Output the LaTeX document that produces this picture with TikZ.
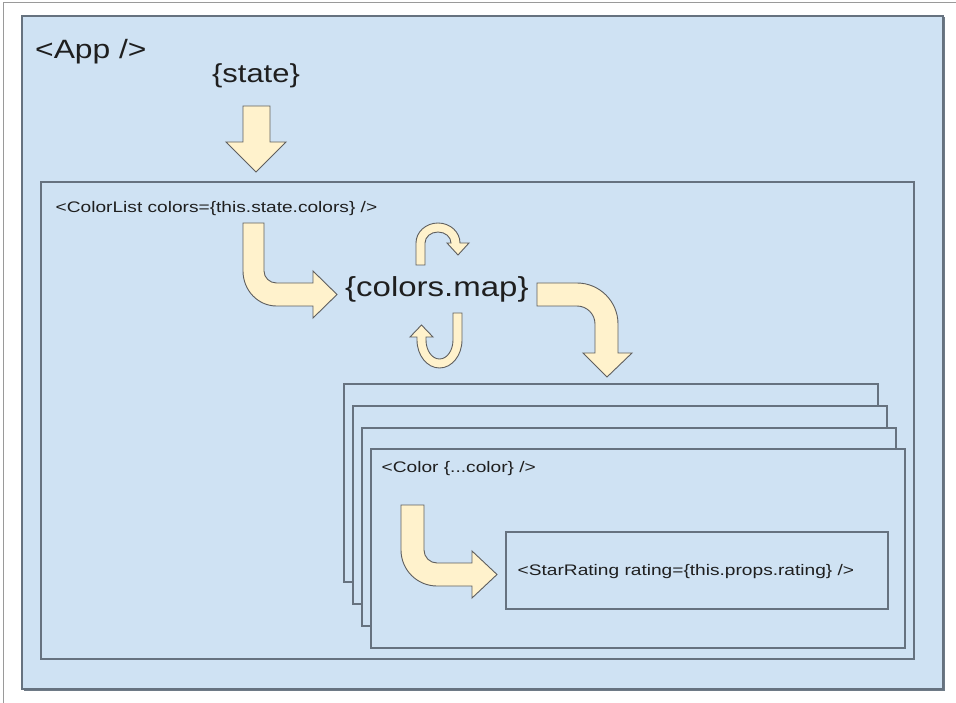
\documentclass[tikz,border=0pt]{standalone}
\usepackage{fontspec}
\setmainfont{Liberation Sans}
\definecolor{boxfill}{HTML}{CFE2F3}
\definecolor{boxline}{HTML}{66727F}
\definecolor{shadowc}{HTML}{6E7A86}
\definecolor{arrowfill}{HTML}{FFF2CC}
\definecolor{arrowline}{HTML}{5F5F5F}
\definecolor{txt}{HTML}{1F1F1F}
\definecolor{framec}{HTML}{9A9A9A}
\begin{document}
\begin{tikzpicture}[x=1pt,y=-1pt,
  box/.style={draw=boxline, line width=1.2pt, fill=boxfill, inner sep=0pt, outer sep=0pt, anchor=north west},
  blockarrow/.style={draw=arrowline, line width=0.9pt, fill=arrowfill, line join=miter},
  lbl/.style={inner sep=0pt, anchor=base west, text=txt},
  big/.style={font=\fontsize{26.5}{30}\selectfont},
  small/.style={font=\fontsize{15.3}{18}\selectfont},
]
\useasboundingbox (0,0) rectangle (956,703);
\fill[white] (0,0) rectangle (956,703);
\draw[framec, line width=1pt] (3.5,703) -- (3.5,2.5) -- (956,2.5);

% boxes
\fill[shadowc] (23.5,17.5) rectangle (944.5,690.5);
\node[box, minimum width=921pt, minimum height=673pt] (app) at (22,16) {};
\node[box, minimum width=873pt, minimum height=477pt] (colorlist) at (41,182) {};
\node[box, minimum width=534pt, minimum height=198pt] (c1) at (344,384) {};
\node[box, minimum width=534pt, minimum height=198pt] (c2) at (353,406) {};
\node[box, minimum width=534pt, minimum height=198pt] (c3) at (362,428) {};
\node[box, minimum width=534pt, minimum height=199pt] (c4) at (371,449) {};
\node[box, minimum width=382pt, minimum height=77pt] (star) at (506,532) {};

% labels
\node[lbl, big] (applbl) at (35,58.3) {\scalebox{1.2}[1]{<App />}};
\node[lbl, anchor=base, font=\fontsize{26}{30}\selectfont] (state) at (256,82.5) {\scalebox{1.19}[1]{\{state\}}};
\node[lbl, small] (cllbl) at (55.5,212.3) {\scalebox{1.25}[1]{<ColorList colors=\{this.state.colors\} />}};
\node[lbl, font=\fontsize{27.5}{32}\selectfont] (map) at (345,296.5) {\scalebox{1.2}[1]{\{colors.map\}}};
\node[lbl, small] (clr) at (381.5,472) {\scalebox{1.25}[1]{<Color \{...color\} />}};
\node[lbl, small] (sr) at (517.5,575.7) {\scalebox{1.25}[1]{<StarRating rating=\{this.props.rating\} />}};

% state -> ColorList
\draw[blockarrow] (243,106) -- (270,106) -- (270,142) -- (286,142) -- (256,172) -- (226,142) -- (243,142) -- cycle;

% ColorList -> colors.map
\draw[blockarrow] (243,223) -- (264,223) -- (264,271)
  .. controls (264,277.6) and (269.6,283) .. (276.5,283)
  -- (313,283) -- (313,271) -- (337,294.5) -- (313,318) -- (313,306) -- (276.5,306)
  .. controls (258,306) and (243,290.3) .. (243,271) -- cycle;

% colors.map -> Color stack
\draw[blockarrow] (537,283) -- (577,283)
  .. controls (599.6,283) and (618,301.4) .. (618,324)
  -- (618,353) -- (632,353) -- (607,377) -- (583,353) -- (595,353) -- (595,324)
  .. controls (595,314.1) and (586.9,306) .. (577,306) -- (537,306) -- cycle;

% loop arrow above
\draw[blockarrow] (416,265) -- (416,243)
  .. controls (416,232) and (425.8,223) .. (438,223)
  .. controls (450.2,223) and (460,232) .. (460,243)
  -- (469,243) -- (458,255) -- (447,243) -- (451,243)
  .. controls (451,236.9) and (445.2,232) .. (438,232)
  .. controls (430.8,232) and (425,236.9) .. (425,243)
  -- (425,265) -- cycle;

% loop arrow below
\draw[blockarrow] (453,313) -- (462,313) -- (462,340)
  .. controls (462,355.5) and (451.9,368) .. (439.5,368)
  .. controls (427.1,368) and (417,355.5) .. (417,340)
  -- (417,337) -- (410,337) -- (421.5,325) -- (433,337) -- (426,337) -- (426,340)
  .. controls (426,350.5) and (432,359) .. (439.5,359)
  .. controls (447,359) and (453,350.5) .. (453,340) -- cycle;

% Color -> StarRating
\draw[blockarrow] (401,505) -- (424,505) -- (424,550)
  .. controls (424,557.2) and (429.8,563) .. (437,563)
  -- (472,563) -- (472,551) -- (497,574.5) -- (472,598) -- (472,586) -- (437,586)
  .. controls (417.1,586) and (401,569.9) .. (401,550) -- cycle;
\end{tikzpicture}
\end{document}
